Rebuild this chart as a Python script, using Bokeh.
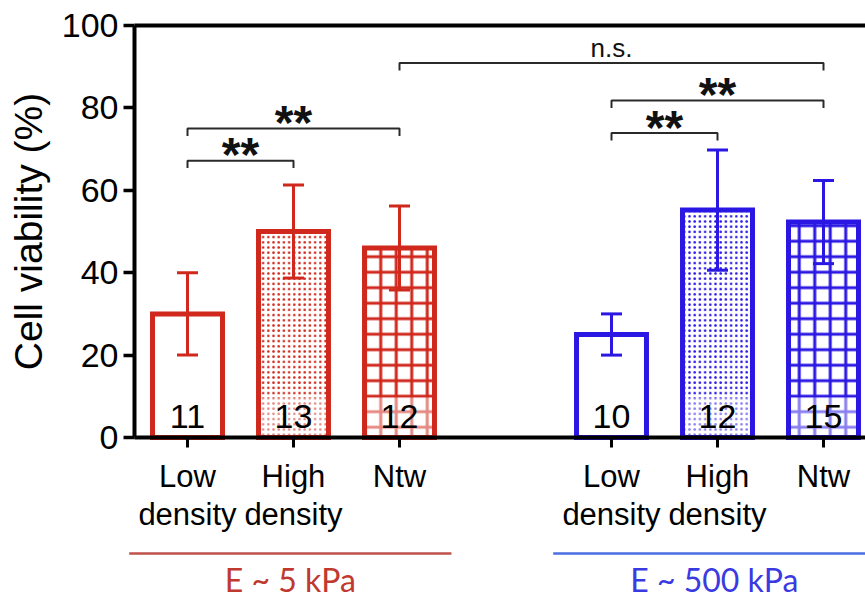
from bokeh.plotting import figure
from bokeh.models import Range1d, FixedTicker, ColumnDataSource
from bokeh.embed import file_html
from bokeh.resources import INLINE
from bokeh.core.properties import value

# ---------------- data ----------------
groups = ["E ~ 5 kPa", "E ~ 500 kPa"]
conditions = ["Low\ndensity", "High\ndensity", "Ntw"]
means_5kpa = [30.0, 50.0, 46.0]
sd_5kpa = [10.0, 11.3, 10.2]
n_5kpa = [11, 13, 12]
means_500kpa = [25.0, 55.2, 52.3]
sd_500kpa = [5.0, 14.6, 10.1]
n_500kpa = [10, 12, 15]
y_ticks = [0, 20, 40, 60, 80, 100]
# comparisons: (group a, condition a, group b, condition b, label, bracket height %)
comparisons = [
    (0, 0, 0, 1, "**", 67.2),
    (0, 0, 0, 2, "**", 75.0),
    (1, 0, 1, 1, "**", 73.9),
    (1, 0, 1, 2, "**", 81.8),
    (0, 2, 1, 2, "n.s.", 90.9),
]

# ---------------- styles / layout ----------------
FONT = "Liberation Sans"
bar_colors = ["#d0281c", "#2b17e3"]
line_colors = ["#c0504a", "#4a6fe2"]
text_colors = ["#c0392f", "#3a3ae3"]
patterns = ["blank", "dot", "cross"]
pat_scale = [10, 5.2, 15.5]
pat_weight = [1, 1, 3]
BAR_W = 0.66
W, H = 865, 602
PX_X = 106.0            # pixels per category step
X0_PX = 187.0           # pixel column of the first category
AX_LEFT_PX = 134.0      # pixel column of the y axis
Y0_PX, Y100_PX = 437.0, 25.0
PX_Y = (Y0_PX - Y100_PX) / 100.0

x_start = -X0_PX / PX_X
x_end = x_start + W / PX_X
y_axis_x = (AX_LEFT_PX - X0_PX) / PX_X
y_top = 100 + Y100_PX / PX_Y
y_bottom = y_top - H / PX_Y
def y_of_px(py):
    return y_top - py / PX_Y

ncond = len(conditions)
def pos(g, c):
    return g * (ncond + 1) + c

means = [means_5kpa, means_500kpa]
sds = [sd_5kpa, sd_500kpa]
ns = [n_5kpa, n_500kpa]

rows = dict(x=[], top=[], upper=[], lower=[], n=[], color=[], hatch=[], hscale=[], hweight=[])
for g in range(len(groups)):
    for c in range(ncond):
        m = means[g][c]
        s = sds[g][c]
        rows["x"].append(pos(g, c))
        rows["top"].append(m)
        rows["upper"].append(m + s)
        rows["lower"].append(m - s)
        rows["n"].append(str(ns[g][c]))
        rows["color"].append(bar_colors[g])
        rows["hatch"].append(patterns[c])
        rows["hscale"].append(pat_scale[c])
        rows["hweight"].append(pat_weight[c])
src = ColumnDataSource(rows)

p = figure(width=W, height=H, x_range=Range1d(x_start, x_end), y_range=Range1d(y_bottom, y_top),
           toolbar_location=None, output_backend="svg", min_border=0)
p.title.visible = False
p.grid.visible = False
p.outline_line_color = None

# frame top line at 100 %
p.segment(x0=y_axis_x, y0=max(y_ticks), x1=x_end, y1=max(y_ticks), line_color="black", line_width=4)

# bars: fill + hatch
p.vbar(x="x", top="top", bottom=0, width=BAR_W, source=src, fill_color="white", line_color=None,
       hatch_pattern="hatch", hatch_color="color", hatch_scale="hscale", hatch_weight="hweight")
# light band behind the counts
p.vbar(x="x", top=9.7, bottom=0, width=BAR_W - 0.04, source=src, fill_color="white",
       fill_alpha=0.45, line_color=None)
# outlines
p.vbar(x="x", top="top", bottom=0, width=BAR_W, source=src, fill_color=None,
       line_color="color", line_width=5, line_join="miter")
# error bars
p.segment(x0="x", y0="lower", x1="x", y1="upper", source=src, line_color="color", line_width=3)
p.scatter(x="x", y="upper", source=src, marker="dash", size=21, line_color="color", line_width=3)
p.scatter(x="x", y="lower", source=src, marker="dash", size=21, line_color="color", line_width=3)
# counts
p.text(x="x", y=0, text="n", source=src, text_align="center", text_baseline="alphabetic",
       y_offset=-21, text_font=value(FONT), text_font_size="34px", text_color="black")

# significance brackets
bx, by, tx, ty, tl = [], [], [], [], []
for ga, ca, gb, cb, lab, h in comparisons:
    xa_, xb_ = pos(ga, ca), pos(gb, cb)
    bx.append([xa_, xa_, xb_, xb_])
    by.append([h - 1.8, h, h, h - 1.8])
    tx.append((xa_ + xb_) / 2)
    ty.append(h)
    tl.append(lab)
p.multi_line(xs=bx, ys=by, line_color="#2a2a2a", line_width=2)
star_x = [x for x, l in zip(tx, tl) if l == "**"]
star_y = [y for y, l in zip(ty, tl) if l == "**"]
ns_x = [x for x, l in zip(tx, tl) if l != "**"]
ns_y = [y for y, l in zip(ty, tl) if l != "**"]
ns_t = [l for l in tl if l != "**"]
p.text(x=star_x, y=star_y, text=["**"] * len(star_x), text_align="center", text_baseline="alphabetic",
       y_offset=-6, text_font=value(FONT), text_font_size="48px", text_font_style="bold",
       text_color="#111111")
p.text(x=ns_x, y=ns_y, text=ns_t, text_align="center", text_baseline="alphabetic",
       y_offset=-15, text_font=value(FONT), text_font_size="26px", text_color="#111111")

# group underlines and labels
centers = [sum(pos(g, c) for c in range(ncond)) / ncond for g in range(len(groups))]
line_y = y_of_px(553)
p.segment(x0=[c - 1.55 for c in centers], y0=line_y, x1=[c + 1.49 for c in centers], y1=line_y,
          line_color=line_colors, line_width=2.5)
p.text(x=[c - 0.03 for c in centers], y=y_of_px(590), text=groups, text_align="center",
       text_baseline="alphabetic", y_offset=-11, text_font=value("Lato"), text_font_size="32px",
       text_color=text_colors)

# axes
xa = p.xaxis[0]
xa.fixed_location = 0
xa.bounds = (y_axis_x, x_end)
xa.ticker = FixedTicker(ticks=src.data["x"])
xa.major_label_overrides = {x: conditions[i % ncond] for i, x in enumerate(src.data["x"])}
xa.major_label_text_font = FONT
xa.major_label_text_font_size = "31px"
xa.major_label_text_line_height = 1.1
xa.major_label_text_color = "black"
xa.major_label_standoff = 11
xa.major_tick_out = 10
xa.major_tick_in = 0
xa.major_tick_line_width = 3
xa.axis_line_width = 4
xa.minor_tick_line_color = None

ya = p.yaxis[0]
ya.fixed_location = y_axis_x
ya.bounds = (min(y_ticks), max(y_ticks))
ya.ticker = FixedTicker(ticks=y_ticks)
ya.major_label_text_font = FONT
ya.major_label_text_font_size = "34px"
ya.major_label_text_color = "black"
ya.major_label_standoff = 5
ya.major_tick_out = 11
ya.major_tick_in = 0
ya.major_tick_line_width = 3.5
ya.axis_line_width = 4
ya.minor_tick_line_color = None
ya.axis_label = "Cell viability (%)"
ya.axis_label_text_font = FONT
ya.axis_label_text_font_size = "39px"
ya.axis_label_text_font_style = "normal"
ya.axis_label_text_color = "black"
ya.axis_label_standoff = 9

open("out.html", "w").write(file_html(p, INLINE))
